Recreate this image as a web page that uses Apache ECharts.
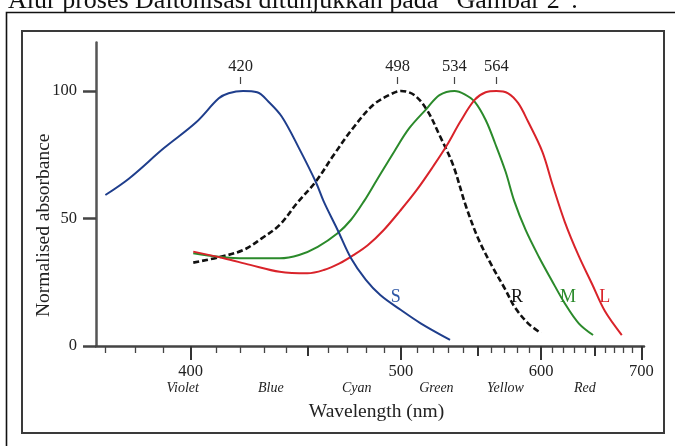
<!DOCTYPE html>
<html>
<head>
<meta charset="utf-8">
<script src="https://cdn.jsdelivr.net/npm/echarts@6/dist/echarts.min.js"></script>
<style>html,body{margin:0;padding:0;background:#fff;}#c{width:675px;height:446px;}</style>
</head>
<body>
<div id="c"></div>
<script>
// ---- data (wavelength in nm, normalised absorbance) ----
const sLambda = [370, 378, 390, 402, 411, 415, 421, 427, 432, 438, 446, 454, 458, 465, 472, 480, 488, 500, 512, 531];
const sValue  = [59.2, 65.8, 77.5, 87.6, 97.1, 99.1, 100, 99.5, 95.8, 89.9, 77.5, 64.4, 56.6, 45.5, 34.4, 25.9, 20, 14.1, 8.9, 2.4];

const rLambda = [401, 411, 421, 429, 437, 445, 454, 463, 473, 484, 494, 500, 508, 516, 524, 533, 542, 551, 561, 571, 578, 589, 600];
const rValue  = [32.7, 34.8, 37.6, 42.2, 47.5, 56.0, 64.4, 74.9, 85.4, 94.5, 98.7, 100, 98.4, 92.5, 82.7, 71.0, 54.6, 41.6, 31.1, 22.0, 15.4, 8.9, 5.0];

const mLambda = [401, 411, 422, 437, 446, 455, 465, 472, 479, 486, 496, 505, 516, 524, 534, 541, 548, 556, 563, 571, 578, 587, 598, 609, 621, 634, 648];
const mValue  = [36.4, 35.0, 34.4, 34.4, 35.7, 38.9, 44.2, 49.5, 56.8, 65.0, 76.2, 85.4, 93.2, 98.4, 100, 98.7, 95.8, 88.6, 79.5, 68.4, 56.6, 45.5, 35.0, 25.9, 16.7, 8.9, 4.3];

const lLambda = [401, 413, 424, 437, 450, 458, 466, 473, 481, 490, 499.5, 509.6, 520, 529, 538, 548, 556, 564, 573, 581, 589, 601, 610, 621, 634, 647, 660, 678];
const lValue  = [37.0, 34.4, 31.8, 29.1, 28.5, 29.8, 32.4, 35.5, 39.5, 45.5, 53.0, 61.2, 70.5, 78.8, 88.0, 96.5, 99.5, 100, 99.1, 95.2, 88.0, 76.2, 63.1, 48.6, 35.3, 24.3, 13.7, 4.3];

const yTicks = [0, 50, 100];
const majorTicks = [400, 500, 600, 700];
const mediumTicks = [450, 550, 650];
const minorTicks = [370, 380, 390, 410, 420, 430, 440, 460, 470, 480, 490, 510, 520, 530, 540, 560, 570, 580, 590, 610, 620, 630, 640, 660, 670, 680, 690];
const peakLabels = [420, 498, 534, 564];
const colorNames = ['Violet', 'Blue', 'Cyan', 'Green', 'Yellow', 'Red'];
const colorNameAt = [397, 433, 475, 522, 571, 640];
const curveLetters = ['S', 'R', 'M', 'L'];
const letterAt = [497, 580, 624, 660];
const letterValue = 19;

// ---- helpers ----
const inv = l => 1000 / l;              // axis is linear in 1/wavelength
const toNm = v => Math.round(1000 / v);
const X_MIN = 1.4221, X_MAX = 2.7250;
const SERIF = "'Liberation Serif', 'DejaVu Serif', serif";
const gridBox = { left: 96, right: 31, top: 42.5, bottom: 100 };

function pairs(ls, vs) { return ls.map((l, i) => [inv(l), vs[i]]); }

function baseX(gridIndex) {
  return {
    type: 'value', gridIndex: gridIndex, min: X_MIN, max: X_MAX, inverse: true,
    splitLine: { show: false }, axisLine: { show: false },
    axisTick: { show: false }, axisLabel: { show: false }
  };
}
function hiddenY(gridIndex) {
  return { type: 'value', gridIndex: gridIndex, min: 0, max: 119, show: false };
}

const xAxes = [];
// main bottom axis: line, major ticks, labels, title
const x0 = baseX(0);
x0.position = 'bottom';
x0.axisLine = { show: true, lineStyle: { color: '#444', width: 2.5 } };
x0.axisTick = { show: true, customValues: majorTicks.map(inv), length: 14, lineStyle: { color: '#333', width: 2 } };
x0.axisLabel = { show: true, customValues: majorTicks.map(inv), formatter: v => String(toNm(v)),
  fontSize: 16.5, fontFamily: SERIF, color: '#222', margin: 17 };
x0.name = 'Wavelength (nm)';
x0.nameLocation = 'middle';
x0.nameGap = 56;
x0.nameMoveOverlap = false;
x0.nameTextStyle = { fontSize: 19.5, fontFamily: SERIF, color: '#222', padding: [0, 0, 0, 13] };
xAxes.push(x0);
// peak wavelength markers along the top
const x1 = baseX(0);
x1.position = 'top';
x1.offset = -41.5;
x1.axisTick = { show: true, customValues: peakLabels.map(inv), length: 7, lineStyle: { color: '#444', width: 1.2 } };
x1.axisLabel = { show: true, customValues: peakLabels.map(inv), formatter: v => String(toNm(v)),
  fontSize: 16.5, fontFamily: SERIF, color: '#222', margin: 9 };
xAxes.push(x1);
// medium ticks
const x2 = baseX(1);
x2.position = 'bottom';
x2.axisTick = { show: true, customValues: mediumTicks.map(inv), length: 10, lineStyle: { color: '#333', width: 2 } };
xAxes.push(x2);
// minor ticks
const x3 = baseX(2);
x3.position = 'bottom';
x3.axisTick = { show: true, customValues: minorTicks.map(inv), length: 7, lineStyle: { color: '#444', width: 1.3 } };
xAxes.push(x3);
// colour names
const x4 = baseX(3);
x4.position = 'bottom';
x4.axisLabel = { show: true, customValues: colorNameAt.map(inv),
  formatter: v => colorNames[colorNameAt.indexOf(toNm(v))] || '',
  fontSize: 14, fontStyle: 'italic', fontFamily: SERIF, color: '#222', margin: 35 };
xAxes.push(x4);

const yAxes = [
  {
    type: 'value', gridIndex: 0, min: 0, max: 119,
    splitLine: { show: false },
    axisLine: { show: true, lineStyle: { color: '#555', width: 2.5 } },
    axisTick: { show: true, customValues: yTicks, length: 13, lineStyle: { color: '#444', width: 2.5 } },
    axisLabel: { show: true, customValues: yTicks, fontSize: 16.5, fontFamily: SERIF, color: '#222', margin: 19 },
    name: 'Normalised absorbance', nameLocation: 'middle', nameGap: 42, nameMoveOverlap: false,
    nameTextStyle: { fontSize: 19.5, fontFamily: SERIF, color: '#222', padding: [0, 62, 0, 0] }
  },
  hiddenY(1), hiddenY(2), hiddenY(3)
];

const colors = ['#1f3e8c', '#111111', '#2b8a2b', '#d9232a'];
const datasets = [pairs(sLambda, sValue), pairs(rLambda, rValue), pairs(mLambda, mValue), pairs(lLambda, lValue)];
const names = ['S', 'R', 'M', 'L'];

const series = datasets.map((d, i) => ({
  type: 'line', name: names[i], xAxisIndex: 0, yAxisIndex: 0,
  data: d, smooth: 0.35, showSymbol: false, symbol: 'none',
  lineStyle: { color: colors[i], width: i === 1 ? 2.6 : 2, type: i === 1 ? [6, 3] : 'solid' },
  z: i === 0 ? 5 : 3,
  markPoint: {
    symbol: 'rect', symbolSize: 1, itemStyle: { color: 'transparent' },
    label: { show: true, position: 'inside', formatter: curveLetters[i], color: i === 0 ? '#2d57a6' : colors[i],
      fontSize: 18, fontFamily: SERIF },
    data: [{ coord: [inv(letterAt[i]), letterValue] }]
  }
}));

const chart = echarts.init(document.getElementById('c'), null, { renderer: 'canvas' });
chart.setOption({
  animation: false,
  backgroundColor: '#ffffff',
  grid: [0, 1, 2, 3].map(() => Object.assign({}, gridBox)),
  xAxis: xAxes,
  yAxis: yAxes,
  series: series,
  graphic: [
    { type: 'text', left: 8, top: -12, silent: true,
      style: { text: 'Alur proses Daltonisasi ditunjukkan pada \u201CGambar 2\u201D.', font: "26px 'Liberation Serif'", fill: '#111' } },
    { type: 'rect', silent: true, shape: { x: 6.5, y: 12.5, width: 700, height: 460 },
      style: { fill: 'none', stroke: '#111', lineWidth: 1.6 } },
    { type: 'rect', silent: true, shape: { x: 22, y: 31, width: 642, height: 402 },
      style: { fill: 'none', stroke: '#3a3a3a', lineWidth: 2 } }
  ]
});
</script>
</body>
</html>
